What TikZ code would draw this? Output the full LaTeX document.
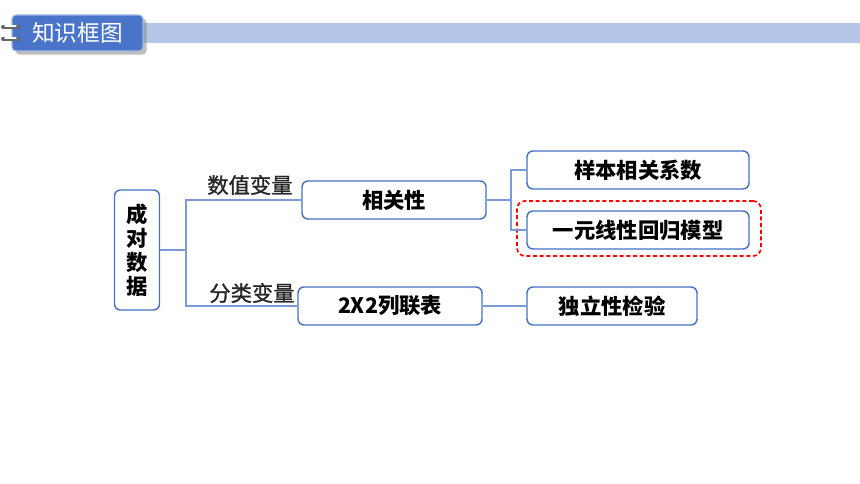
\documentclass[tikz,border=0pt]{standalone}
\usepackage{fontspec}
\setmainfont{Noto Sans CJK SC}
\newfontfamily\labfont{Noto Sans CJK SC}[FakeBold=1.2]
\usetikzlibrary{shadows}
\definecolor{boxblue}{HTML}{4472C4}
\definecolor{lineblue}{HTML}{7A9AD8}
\definecolor{headblue}{HTML}{4A74C9}
\definecolor{stripblue}{HTML}{B4C5E7}
\tikzset{
  box/.style={draw=boxblue, line width=1.1pt, rounded corners=4.5pt, minimum height=28.5pt, inner sep=0pt, font=\bfseries\fontsize{16}{18}\selectfont},
  link/.style={draw=lineblue, line width=0.8pt},
  lab/.style={inner sep=0pt, text=black!85, font=\labfont\fontsize{16}{18}\selectfont},
  ring/.style={draw=gray!80!black, line width=3pt, line cap=round},
}
\begin{document}
\begin{tikzpicture}[x=0.75pt,y=-0.75pt]
  \useasboundingbox (0,0) rectangle (860,484);
  % header
  \fill[stripblue] (140,23) rectangle (860,43);
  \node[fill=headblue, draw=headblue!50!white, line width=0.8pt, rounded corners=3pt, drop shadow, minimum width=98.25pt, minimum height=27pt, text=white, font=\fontsize{17}{20}\selectfont] (tab) at (77.5,33) {知识框图};
  \foreach \y in {27,39} {
    \draw[ring] (3,\y) -- (18,\y);
    \draw[white, line width=0.8pt, line cap=round] (5,\y-1) -- (16,\y-1);
  }
  % boxes
  \node[box, minimum width=33.75pt, minimum height=90pt, align=center] (cd) at (137,250) {成\\对\\数\\据};
  \node[box, minimum width=138pt] (xg) at (394,200) {相关性};
  \node[box, minimum width=138pt] (lb) at (390,306) {2X2列联表};
  \node[box, minimum width=166.5pt] (yb) at (638,170) {样本相关系数};
  \node[box, minimum width=166.5pt] (hg) at (638,230) {一元线性回归模型};
  \node[box, minimum width=127.5pt] (dl) at (612,306) {独立性检验};
  \node[draw=red, dash pattern=on 3pt off 2pt, line width=1.3pt, rounded corners=6pt, minimum width=183pt, minimum height=41.25pt] (hl) at (639,228.5) {};
  % labels
  \node[lab] (sz) at (250,185) {数值变量};
  \node[lab] (fl) at (252,293) {分类变量};
  % links
  \coordinate (b1) at (186,250);
  \coordinate (b2) at (511,200);
  \draw[link] (cd.east) -- (b1);
  \draw[link] (b1) |- (xg.west);
  \draw[link] (b1) |- (lb.west);
  \draw[link] (xg.east) -- (b2);
  \draw[link] (b2) |- (yb.west);
  \draw[link] (b2) |- (hg.west);
  \draw[link] (lb.east) -- (dl.west);
\end{tikzpicture}
\end{document}
